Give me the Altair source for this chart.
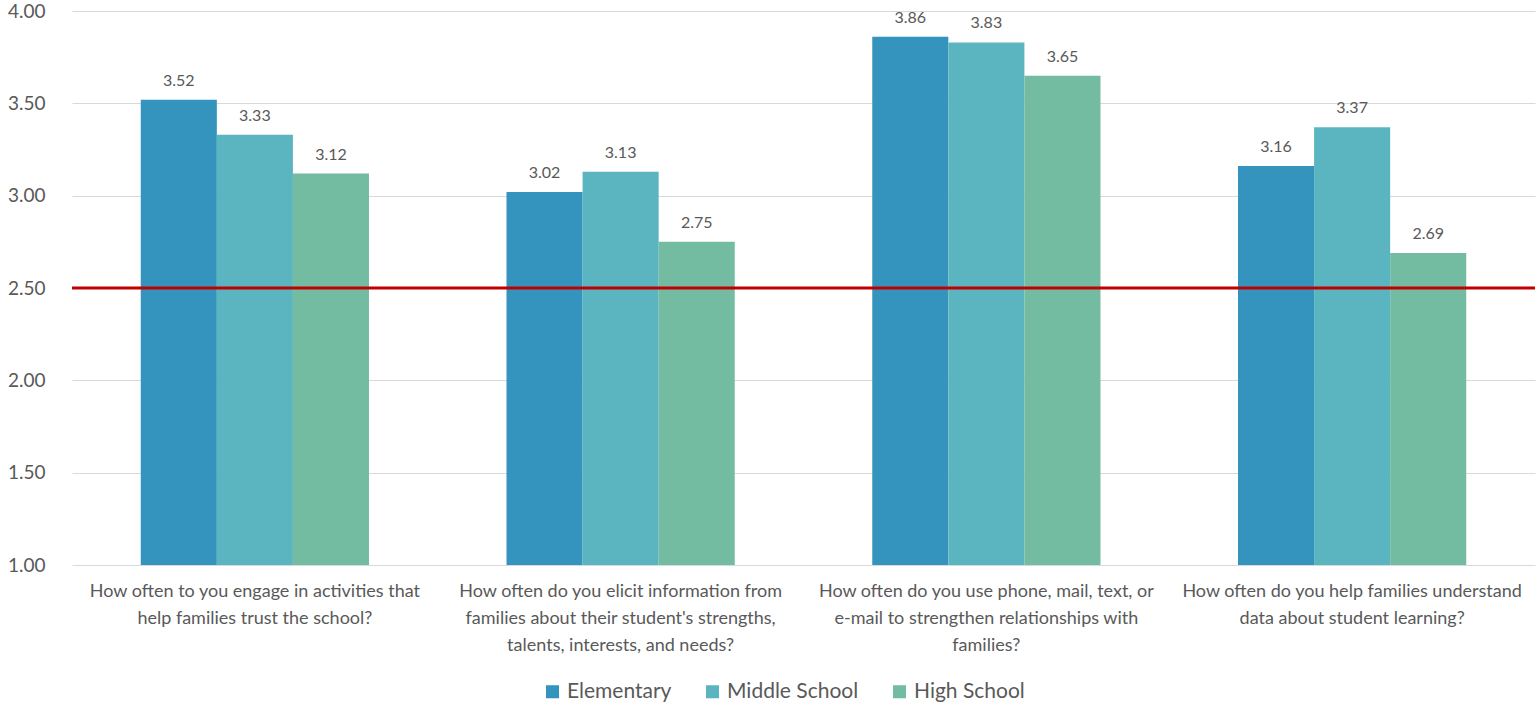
import altair as alt
import pandas as pd

questions = [
    "How often to you engage in activities that|help families trust the school?",
    "How often do you elicit information from|families about their student's strengths,|talents, interests, and needs?",
    "How often do you use phone, mail, text, or|e-mail to strengthen relationships with|families?",
    "How often do you help families understand|data about student learning?",
]
levels = ["Elementary", "Middle School", "High School"]
elementary = [3.52, 3.02, 3.86, 3.16]
middle_school = [3.33, 3.13, 3.83, 3.37]
high_school = [3.12, 2.75, 3.65, 2.69]
colors = ["#3494BD", "#5AB5C0", "#73BCA2"]
threshold = [2.5]
y_ticks = [1.0, 1.5, 2.0, 2.5, 3.0, 3.5, 4.0]

rows = []
for level, values in zip(levels, [elementary, middle_school, high_school]):
    for q, v in zip(questions, values):
        rows.append({"question": q, "level": level, "score": v})
df = pd.DataFrame(rows)

font = "Lato"
grey = "#595959"

x_enc = alt.X(
    "question:N",
    sort=questions,
    title=None,
    scale=alt.Scale(paddingInner=0.376, paddingOuter=0.188),
    axis=alt.Axis(
        labelExpr="split(datum.label, '|')",
        labelAngle=0,
        labelFontSize=18,
        labelLineHeight=27,
        labelColor=grey,
        labelFont=font,
        labelPadding=17,
        ticks=False,
        domain=False,
        grid=False,
        labelLimit=420,
    ),
)
y_scale = alt.Scale(domain=[1, 4], nice=False, zero=False)

base = alt.Chart(df)

bars = base.mark_bar().encode(
    x=x_enc,
    xOffset=alt.XOffset("level:N", sort=levels),
    y=alt.Y(
        "score:Q",
        scale=y_scale,
        title=None,
        axis=alt.Axis(
            values=y_ticks,
            format=".2f",
            labelFontSize=19,
            labelColor=grey,
            labelFont=font,
            labelPadding=27,
            ticks=False,
            domain=False,
            gridColor="#D9D9D9",
            gridWidth=1,
        ),
    ),
    y2=alt.datum(1),
    color=alt.Color(
        "level:N",
        sort=levels,
        scale=alt.Scale(domain=levels, range=colors),
        legend=alt.Legend(
            title=None,
            orient="none",
            legendX=470,
            legendY=670,
            direction="horizontal",
            symbolType="square",
            symbolSize=170,
            symbolStrokeWidth=0,
            labelFontSize=21,
            labelColor=grey,
            labelFont=font,
            columnPadding=30,
        ),
    ),
)

labels = base.mark_text(
    baseline="bottom", dy=-11, fontSize=16, color=grey, font=font
).encode(
    x=alt.X("question:N", sort=questions),
    xOffset=alt.XOffset("level:N", sort=levels),
    y=alt.Y("score:Q", scale=y_scale),
    text=alt.Text("score:Q", format=".2f"),
)

rule = alt.Chart(pd.DataFrame({"target": threshold})).mark_rule(
    color="#C00000", strokeWidth=3
).encode(y=alt.Y("target:Q", scale=y_scale))

chart = (
    alt.layer(bars, labels, rule)
    .properties(width=1463, height=554)
    .configure(
        autosize=alt.AutoSizeParams(type="none"),
        padding={"left": 72, "top": 11, "right": 3, "bottom": 142},
    )
    .configure_view(stroke=None)
    .configure_scale(bandPaddingInner=0)
)

chart.save("out.html", embed_options={"renderer": "svg", "actions": False})
